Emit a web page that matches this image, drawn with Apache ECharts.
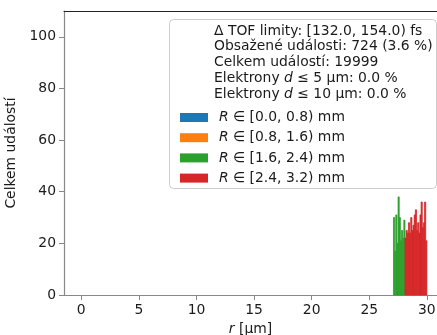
<!DOCTYPE html>
<html>
<head>
<meta charset="utf-8">
<script src="https://cdn.jsdelivr.net/npm/echarts@6/dist/echarts.min.js"></script>
<style>html,body{margin:0;padding:0;background:#fff}#c{width:437px;height:335px}</style>
</head>
<body>
<div id="c"></div>
<script>
// ---- data ----
const seriesNames = ['R ∈ [0.0, 0.8) mm', 'R ∈ [0.8, 1.6) mm', 'R ∈ [1.6, 2.4) mm', 'R ∈ [2.4, 3.2) mm'];
const seriesColors = ['#1f77b4', '#ff7f0e', '#2ca02c', '#d62728'];
const binWidth = 0.1;
const greenStart = 27.1;
const greenCounts = [30, 17, 31, 20, 38, 30, 21, 25, 22, 29];
const redStart = 28.1;
const redCounts = [22, 25, 24, 28, 24, 30, 25, 27, 31, 33, 25, 28, 24, 31, 36, 26, 28, 36, 21];
const xTicks = [0, 5, 10, 15, 20, 25, 30];
const yTicks = [0, 20, 40, 60, 80, 100];
const infoLines = [
  'Δ TOF limity: [132.0, 154.0) fs',
  'Obsažené události: 724 (3.6 %)',
  'Celkem událostí: 19999',
  'Elektrony {i|d} ≤ 5 µm: 0.0 %',
  'Elektrony {i|d} ≤ 10 µm: 0.0 %'
];

function bins(start, counts) {
  return counts.map((c, i) => [start + i * binWidth, start + (i + 1) * binWidth, c]);
}
const binData = [[], [], bins(greenStart, greenCounts), bins(redStart, redCounts)];

const FONT = 'DejaVu Sans';
const FS = 13.9;
const TXT = '#1a1a1a';
const X_MIN = -1.5, X_MAX = 30.88;

function renderItem(params, api) {
  const p0 = api.coord([api.value(0), api.value(2)]);
  const p1 = api.coord([api.value(1), 0]);
  const c = api.visual('color');
  return {
    type: 'rect',
    shape: { x: p0[0], y: p0[1], width: p1[0] - p0[0], height: p1[1] - p0[1] },
    style: { fill: c, stroke: c, lineWidth: 0.8 }
  };
}

const chart = echarts.init(document.getElementById('c'), null, { renderer: 'canvas' });
chart.setOption({
  animation: false,
  textStyle: { fontFamily: FONT },
  grid: { left: 64, top: 11, right: 0, height: 284, show: false, containLabel: false, outerBoundsMode: 'none' },
  xAxis: [{
    type: 'value', min: X_MIN, max: X_MAX,
    name: '{i|r} [µm]', nameLocation: 'middle', nameGap: 24,
    nameTextStyle: { fontFamily: FONT, fontSize: FS, color: TXT, rich: { i: { fontStyle: 'italic', fontFamily: FONT, fontSize: FS, color: TXT } } },
    axisLine: { show: true, onZero: false, lineStyle: { color: '#888', width: 1.2 } },
    axisTick: { show: true, inside: false, length: 5, lineStyle: { color: '#888' }, customValues: xTicks },
    axisLabel: { customValues: xTicks, margin: 8, fontFamily: FONT, fontSize: FS, color: TXT },
    splitLine: { show: false }
  }, {
    type: 'value', min: X_MIN, max: X_MAX, position: 'top',
    axisLine: { show: true, onZero: false, lineStyle: { color: '#222', width: 1 } },
    axisTick: { show: false }, axisLabel: { show: false }, splitLine: { show: false }
  }],
  yAxis: {
    type: 'value', min: 0, max: 110,
    name: 'Celkem událostí', nameLocation: 'middle', nameGap: 31,
    nameTextStyle: { fontFamily: FONT, fontSize: FS, color: TXT },
    axisLine: { show: true, onZero: false, lineStyle: { color: '#888', width: 1.2 } },
    axisTick: { show: true, inside: false, length: 5, lineStyle: { color: '#888' }, customValues: yTicks },
    axisLabel: { customValues: yTicks, margin: 8, fontFamily: FONT, fontSize: FS, color: TXT },
    splitLine: { show: false }
  },
  legend: {
    orient: 'vertical', left: 175, top: 105, itemGap: 5.2,
    itemWidth: 28, itemHeight: 9, icon: 'rect', selectedMode: false,
    data: seriesNames,
    formatter: function (name) { return '{s|}{i|R}' + name.slice(1); },
    textStyle: {
      fontFamily: FONT, fontSize: FS, color: TXT, lineHeight: 15,
      rich: { s: { width: 6, lineHeight: 15 }, i: { fontStyle: 'italic', fontFamily: FONT, fontSize: FS, color: TXT, lineHeight: 15 } }
    },
    z: 10
  },
  graphic: [
    { type: 'rect', left: 169, top: 19, z: 5, shape: { width: 267, height: 169, r: 4 }, style: { fill: 'rgba(255,255,255,0.8)', stroke: '#cccccc', lineWidth: 1 } }
  ].concat(infoLines.map((t, i) => ({
    type: 'text', x: 214, y: 31 + i * 15.8, z: 6,
    style: { text: t, fill: TXT, font: FS + 'px "' + FONT + '"', verticalAlign: 'middle', align: 'left',
      rich: { i: { fontStyle: 'italic', fontFamily: FONT, fontSize: FS, fill: TXT } } }
  }))),
  series: seriesNames.map((n, k) => ({
    name: n, type: 'custom', renderItem: renderItem, color: seriesColors[k],
    xAxisIndex: 0, encode: { x: [0, 1], y: 2 }, data: binData[k], z: 2
  }))
});
</script>
</body>
</html>
